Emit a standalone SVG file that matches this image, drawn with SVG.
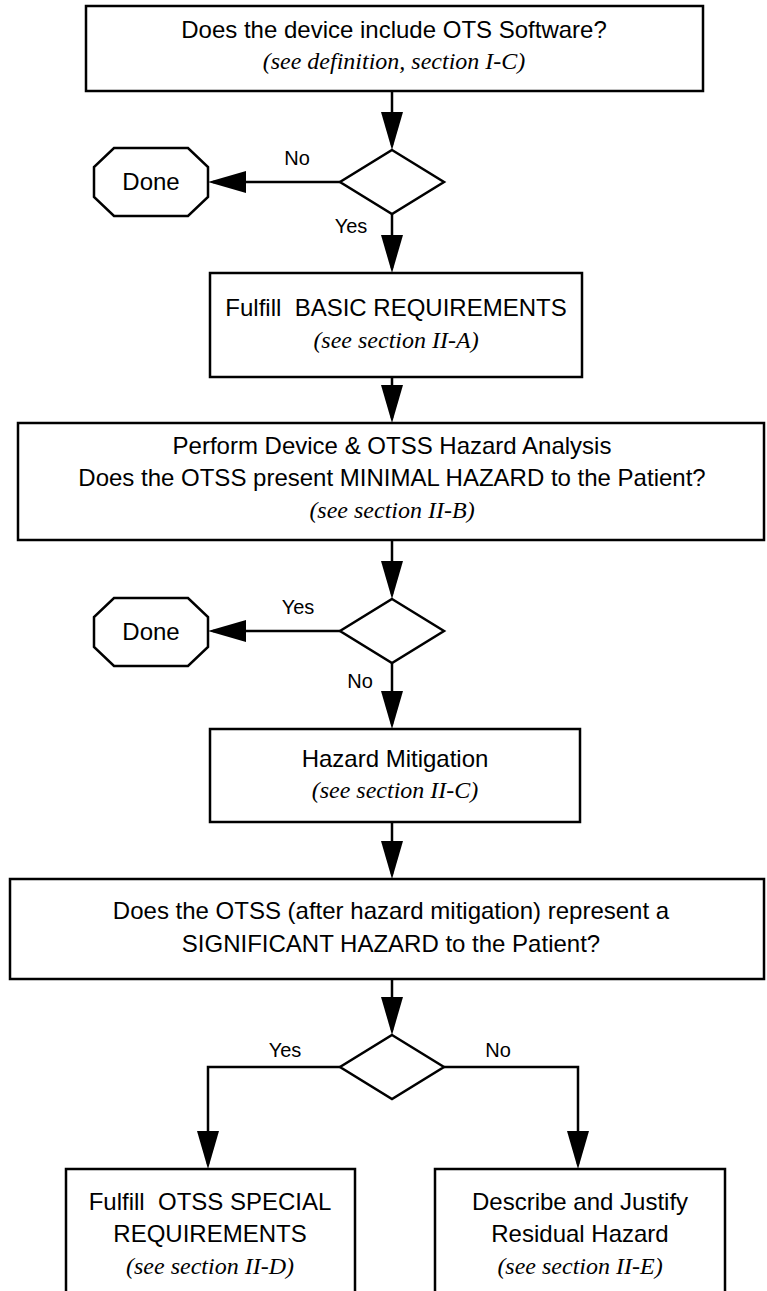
<svg xmlns="http://www.w3.org/2000/svg" width="767" height="1291" viewBox="0 0 767 1291">
<defs>
<style>
.box{fill:#fff;stroke:#000;stroke-width:2.5}
.t{font-family:"Liberation Sans",Arial,sans-serif;font-size:24px;fill:#000;text-anchor:middle}
.i{font-family:"Liberation Serif","Times New Roman",serif;font-style:italic;font-size:24px;fill:#000;text-anchor:middle}
.lbl{font-family:"Liberation Sans",Arial,sans-serif;font-size:20px;fill:#000;text-anchor:middle}
.c{fill:none;stroke:#000;stroke-width:2.5}
</style>
<marker id="ah" markerUnits="userSpaceOnUse" viewBox="0 0 38 22" markerWidth="38" markerHeight="22" refX="33" refY="11" orient="auto">
<path d="M0,0 L38,11 L0,22 z" fill="#000"/>
</marker>
</defs>
<rect width="767" height="1291" fill="#fff"/>

<g id="n-ots">
<rect class="box" x="86" y="6" width="617" height="85"/>
<text class="t" x="394" y="38">Does the device include OTS Software?</text>
<text class="i" x="394" y="69">(see definition, section I-C)</text>
</g>
<g id="d1"><polygon class="box" points="392,150 444,182 392,214 340,182"/></g>
<g id="done1">
<polygon class="box" points="114,148 188,148 208,167 208,197 188,216 114,216 94,197 94,167"/>
<text class="t" x="151" y="190">Done</text>
</g>
<g id="n-basic">
<rect class="box" x="210" y="273" width="372" height="104"/>
<text class="t" x="396" y="316" xml:space="preserve">Fulfill  BASIC REQUIREMENTS</text>
<text class="i" x="396" y="348">(see section II-A)</text>
</g>
<g id="n-hazard">
<rect class="box" x="18" y="423" width="746" height="117"/>
<text class="t" x="392" y="454">Perform Device &amp; OTSS Hazard Analysis</text>
<text class="t" x="392" y="486">Does the OTSS present MINIMAL HAZARD to the Patient?</text>
<text class="i" x="392" y="518">(see section II-B)</text>
</g>
<g id="d2"><polygon class="box" points="392,599 444,631 392,663 340,631"/></g>
<g id="done2">
<polygon class="box" points="114,598 188,598 208,617 208,647 188,666 114,666 94,647 94,617"/>
<text class="t" x="151" y="640">Done</text>
</g>
<g id="n-mitig">
<rect class="box" x="210" y="729" width="370" height="93"/>
<text class="t" x="395" y="767">Hazard Mitigation</text>
<text class="i" x="395" y="798">(see section II-C)</text>
</g>
<g id="n-signif">
<rect class="box" x="10" y="879" width="754" height="100"/>
<text class="t" x="391" y="919">Does the OTSS (after hazard mitigation) represent a</text>
<text class="t" x="391" y="952">SIGNIFICANT HAZARD to the Patient?</text>
</g>
<g id="d3"><polygon class="box" points="392,1035 444,1067 392,1099 340,1067"/></g>
<g id="n-special">
<rect class="box" x="66" y="1169" width="289" height="160"/>
<text class="t" x="210" y="1210" xml:space="preserve">Fulfill  OTSS SPECIAL</text>
<text class="t" x="210" y="1242">REQUIREMENTS</text>
<text class="i" x="210" y="1274">(see section II-D)</text>
</g>
<g id="n-residual">
<rect class="box" x="435" y="1169" width="290" height="160"/>
<text class="t" x="580" y="1210">Describe and Justify</text>
<text class="t" x="580" y="1242">Residual Hazard</text>
<text class="i" x="580" y="1274">(see section II-E)</text>
</g>

<g id="connectors">
<path class="c" d="M392,91 V145" marker-end="url(#ah)"/>
<path class="c" d="M340,182 H213" marker-end="url(#ah)"/>
<path class="c" d="M392,214 V268" marker-end="url(#ah)"/>
<path class="c" d="M392,377 V418" marker-end="url(#ah)"/>
<path class="c" d="M392,540 V594" marker-end="url(#ah)"/>
<path class="c" d="M340,631 H213" marker-end="url(#ah)"/>
<path class="c" d="M392,663 V724" marker-end="url(#ah)"/>
<path class="c" d="M392,822 V874" marker-end="url(#ah)"/>
<path class="c" d="M392,979 V1030" marker-end="url(#ah)"/>
<path class="c" d="M340,1067 H208 V1164" marker-end="url(#ah)"/>
<path class="c" d="M444,1067 H578 V1164" marker-end="url(#ah)"/>
<text class="lbl" x="297" y="165">No</text>
<text class="lbl" x="351" y="233">Yes</text>
<text class="lbl" x="298" y="614">Yes</text>
<text class="lbl" x="360" y="688">No</text>
<text class="lbl" x="285" y="1057">Yes</text>
<text class="lbl" x="498" y="1057">No</text>
</g>
</svg>
